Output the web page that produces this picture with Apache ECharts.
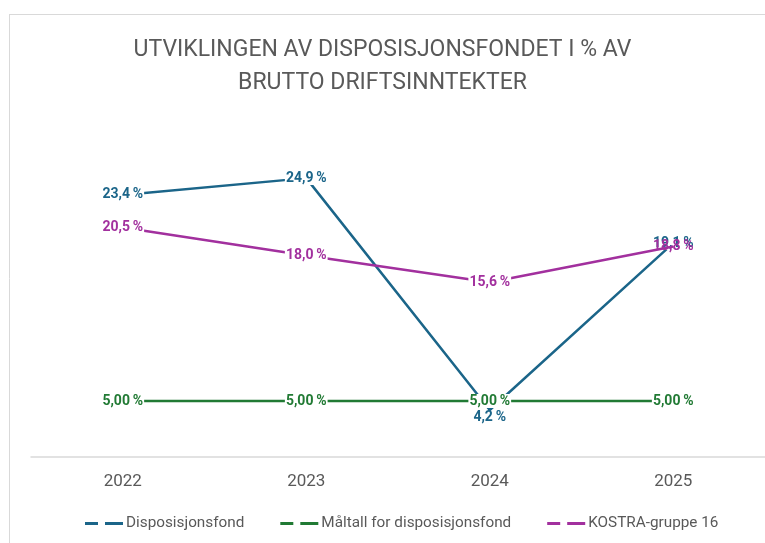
<!DOCTYPE html>
<html>
<head>
<meta charset="utf-8">
<style>
  html, body { margin: 0; padding: 0; background: #fff; }
  #chart { width: 765px; height: 543px; }
</style>
<script src="https://cdn.jsdelivr.net/npm/echarts@6/dist/echarts.min.js"></script>
</head>
<body>
<div id="chart"></div>
<script>
// år og verdier (i %)
const years = ['2022', '2023', '2024', '2025'];
const disposisjonsfond = [23.4, 24.9, 4.2, 19.1];
const maltall = [5, 5, 5, 5];
const kostra = [20.5, 18.0, 15.6, 18.8];

const fmt = d => p => Number(p.value).toFixed(d).replace('.', ',') + '\u2009%';

const dashIcon = 'path://M0,0H13V3H0Z M20,0H38V3H20Z';

const mycharts = echarts.init(document.getElementById('chart'), null, { renderer: 'canvas' });

const lbl = (color, formatter) => ({
    show: true,
    position: 'inside',
    formatter: formatter,
    color: color,
    fontFamily: 'Roboto',
    fontWeight: 'bold',
    fontSize: 14,
    lineHeight: 14,
    backgroundColor: '#fff',
    padding: [0, 1]
});

const option = {
    animation: false,
    title: {
        text: 'UTVIKLINGEN AV DISPOSISJONSFONDET I % AV\nBRUTTO DRIFTSINNTEKTER',
        left: 'center',
        top: 29,
        textStyle: {
            color: '#595959',
            fontFamily: 'Roboto',
            fontWeight: 'normal',
            fontSize: 23,
            lineHeight: 33
        }
    },
    graphic: [
        { type: 'line', shape: { x1: 9, y1: 14.5, x2: 765, y2: 14.5 }, style: { stroke: '#d9d9d9', lineWidth: 1 } },
        { type: 'line', shape: { x1: 9.5, y1: 14, x2: 9.5, y2: 543 }, style: { stroke: '#d9d9d9', lineWidth: 1 } }
    ],
    grid: { left: 31, top: 121, width: 736, height: 336 },
    xAxis: {
        type: 'category',
        data: years,
        boundaryGap: true,
        axisLine: { show: true, lineStyle: { color: '#d9d9d9', width: 1.5 } },
        axisTick: { show: false },
        axisLabel: { color: '#595959', fontFamily: 'Roboto', fontSize: 17, margin: 16 }
    },
    yAxis: {
        type: 'value',
        min: 0,
        max: 30,
        show: false,
        splitLine: { show: false }
    },
    legend: {
        data: ['Disposisjonsfond', 'Måltall for disposisjonsfond', 'KOSTRA-gruppe 16'],
        left: 80,
        top: 511,
        icon: dashIcon,
        itemWidth: 38,
        itemHeight: 3,
        itemGap: 36,
        textStyle: { color: '#595959', fontFamily: 'Roboto', fontSize: 15.3, padding: [0, 0, 0, -2] }
    },
    series: [
        {
            name: 'Disposisjonsfond',
            type: 'line',
            data: disposisjonsfond.map((v, i) => i === 2
                ? { value: v, label: { position: 'bottom', distance: 1 } }
                : v),
            symbol: 'circle',
            symbolSize: 0,
            itemStyle: { color: '#1b6589' },
            lineStyle: { color: '#1b6589', width: 2.5 },
            label: lbl('#1b6589', fmt(1)),
            z: 2
        },
        {
            name: 'Måltall for disposisjonsfond',
            type: 'line',
            data: maltall,
            symbol: 'circle',
            symbolSize: 0,
            itemStyle: { color: '#217a34' },
            lineStyle: { color: '#217a34', width: 2.5 },
            label: lbl('#217a34', fmt(2)),
            z: 3
        },
        {
            name: 'KOSTRA-gruppe 16',
            type: 'line',
            data: kostra.map((v, i) => i === 3
                ? { value: v, label: { backgroundColor: 'transparent' } }
                : v),
            symbol: 'circle',
            symbolSize: 0,
            itemStyle: { color: '#a2309e' },
            lineStyle: { color: '#a2309e', width: 2.5 },
            label: lbl('#a2309e', fmt(1)),
            z: 4
        }
    ]
};
mycharts.setOption(option);
</script>
</body>
</html>
